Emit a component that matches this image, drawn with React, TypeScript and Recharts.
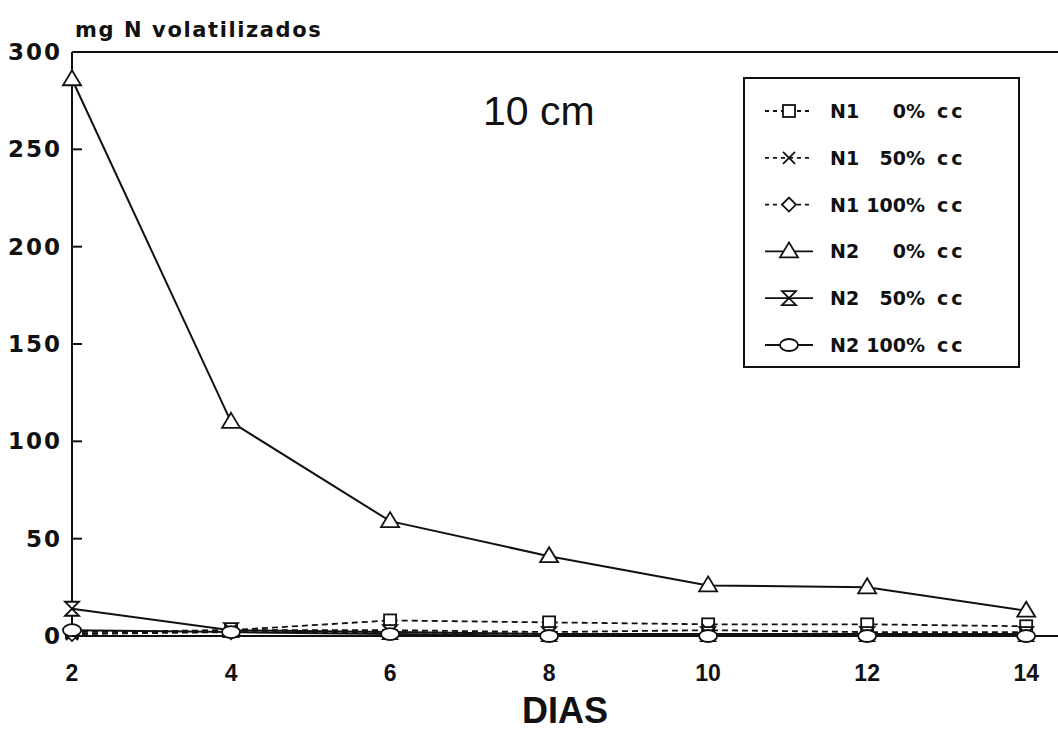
import { LineChart, Line, XAxis, YAxis, ReferenceLine, Legend } from 'recharts';

const days = [2, 4, 6, 8, 10, 12, 14];
const n1cc0 = [2, 3, 8, 7, 6, 6, 5];
const n1cc50 = [1, 3, 3, 2, 3, 2, 2];
const n1cc100 = [1, 2, 2, 1, 1, 1, 1];
const n2cc0 = [286, 110, 59, 41, 26, 25, 13];
const n2cc50 = [14, 3, 2, 1, 1, 1, 1];
const n2cc100 = [3, 2, 1, 0, 0, 0, 0];
const yTicks = [0, 50, 100, 150, 200, 250, 300];

const series = [
  { key: 'n1cc0', name: 'N1', pct: '0%', values: n1cc0, shape: 'square', dashed: true },
  { key: 'n1cc50', name: 'N1', pct: '50%', values: n1cc50, shape: 'cross', dashed: true },
  { key: 'n1cc100', name: 'N1', pct: '100%', values: n1cc100, shape: 'diamond', dashed: true },
  { key: 'n2cc0', name: 'N2', pct: '0%', values: n2cc0, shape: 'triangle', dashed: false },
  { key: 'n2cc50', name: 'N2', pct: '50%', values: n2cc50, shape: 'hourglass', dashed: false },
  { key: 'n2cc100', name: 'N2', pct: '100%', values: n2cc100, shape: 'circle', dashed: false },
];

const data = days.map((d, i) => {
  const row: Record<string, number> = { day: d };
  series.forEach((s) => (row[s.key] = s.values[i]));
  return row;
});

const INK = '#111';
const boldFont = '"DejaVu Sans", sans-serif';
const sansFont = '"Liberation Sans", Arial, sans-serif';

function Marker({ cx, cy, shape }: { cx: number; cy: number; shape: string }) {
  const p = { fill: '#fff', stroke: INK, strokeWidth: 1.8 };
  switch (shape) {
    case 'square':
      return <rect x={cx - 6} y={cy - 6} width={12} height={12} {...p} />;
    case 'cross':
      return (
        <g stroke={INK} strokeWidth={1.8}>
          <line x1={cx - 6} y1={cy - 6} x2={cx + 6} y2={cy + 6} />
          <line x1={cx - 6} y1={cy + 6} x2={cx + 6} y2={cy - 6} />
        </g>
      );
    case 'diamond':
      return <polygon points={`${cx},${cy - 7} ${cx + 7},${cy} ${cx},${cy + 7} ${cx - 7},${cy}`} {...p} />;
    case 'triangle':
      return <polygon points={`${cx},${cy - 9} ${cx + 9},${cy + 6} ${cx - 9},${cy + 6}`} {...p} />;
    case 'hourglass':
      return (
        <polygon
          points={`${cx - 7},${cy - 7} ${cx + 7},${cy - 7} ${cx - 7},${cy + 7} ${cx + 7},${cy + 7}`}
          {...p}
        />
      );
    default:
      return <ellipse cx={cx} cy={cy} rx={9} ry={6} {...p} />;
  }
}

function YTick({ x, y, payload }: any) {
  return (
    <g>
      <line x1={x + 10} x2={x + 20} y1={y} y2={y} stroke={INK} strokeWidth={2} />
      <text
        x={x}
        y={y + 8}
        textAnchor="end"
        fontFamily={boldFont}
        fontWeight="bold"
        fontSize={23}
        letterSpacing={2}
        fill={INK}
      >
        {payload.value}
      </text>
    </g>
  );
}

function XTick({ x, y, payload }: any) {
  return (
    <text
      x={x}
      y={y + 43}
      textAnchor="middle"
      fontFamily={sansFont}
      fontWeight="bold"
      fontSize={23}
      fill={INK}
    >
      {payload.value}
    </text>
  );
}

function LegendBox() {
  const txt = { fontFamily: boldFont, fontWeight: 'bold', fontSize: 19, fill: INK };
  return (
    <svg width={273} height={287} style={{ display: 'block' }}>
      {series.map((s, i) => {
        const cy = 32 + i * 46.8;
        return (
          <g key={s.key}>
            <line
              x1={20}
              x2={68}
              y1={cy}
              y2={cy}
              stroke={INK}
              strokeWidth={1.8}
              strokeDasharray={s.dashed ? '4 4' : undefined}
            />
            <Marker cx={44} cy={cy} shape={s.shape} />
            <text x={85} y={cy + 7} {...txt}>
              {s.name}
            </text>
            <text x={180} y={cy + 7} textAnchor="end" {...txt}>
              {s.pct}
            </text>
            <text x={192} y={cy + 7} {...txt} letterSpacing={3}>
              cc
            </text>
          </g>
        );
      })}
    </svg>
  );
}

export default function App() {
  return (
    <div style={{ position: 'absolute', left: 0, top: 0, width: 1058, height: 732, background: '#fff' }}>
      <LineChart width={1058} height={732} data={data} margin={{ top: 52, right: 0, bottom: 0, left: 0 }}>
        <XAxis
          dataKey="day"
          type="number"
          domain={[2, 14.4]}
          ticks={days}
          tickLine={false}
          tickSize={0}
          height={96}
          axisLine={{ stroke: INK, strokeWidth: 2 }}
          tick={<XTick />}
        />
        <YAxis
          type="number"
          domain={[0, 300]}
          ticks={yTicks}
          width={72}
          tickLine={false}
          tickSize={0}
          tickMargin={10}
          axisLine={{ stroke: INK, strokeWidth: 2 }}
          tick={<YTick />}
        />
        <ReferenceLine y={300} stroke={INK} strokeWidth={2} />
        {series.map((s) => (
          <Line
            key={s.key}
            dataKey={s.key}
            name={`${s.name} ${s.pct} cc`}
            type="linear"
            stroke={INK}
            strokeWidth={s.dashed ? 1.8 : 2}
            strokeDasharray={s.dashed ? '6 4' : undefined}
            isAnimationActive={false}
            dot={(props: any) => <Marker key={`${s.key}-${props.index}`} cx={props.cx} cy={props.cy} shape={s.shape} />}
          />
        ))}
        <Legend
          layout="horizontal"
          verticalAlign="middle"
          align="center"
          content={() => <LegendBox />}
          wrapperStyle={{
            left: 743,
            top: 77,
            width: 277,
            height: 291,
            border: '2px solid #111',
            boxSizing: 'border-box',
            background: '#fff',
          }}
        />
        <text x={75} y={37} fontFamily={boldFont} fontWeight="bold" fontSize={21} letterSpacing={1.6} fill={INK}>
          mg N volatilizados
        </text>
        <text x={483} y={125} fontFamily={sansFont} fontSize={41} fill={INK}>
          10 cm
        </text>
        <text
          x={565}
          y={723}
          textAnchor="middle"
          fontFamily='"Liberation Sans Narrow", "Liberation Sans", sans-serif'
          fontWeight="bold"
          fontSize={36}
          fill={INK}
        >
          DIAS
        </text>
      </LineChart>
    </div>
  );
}
